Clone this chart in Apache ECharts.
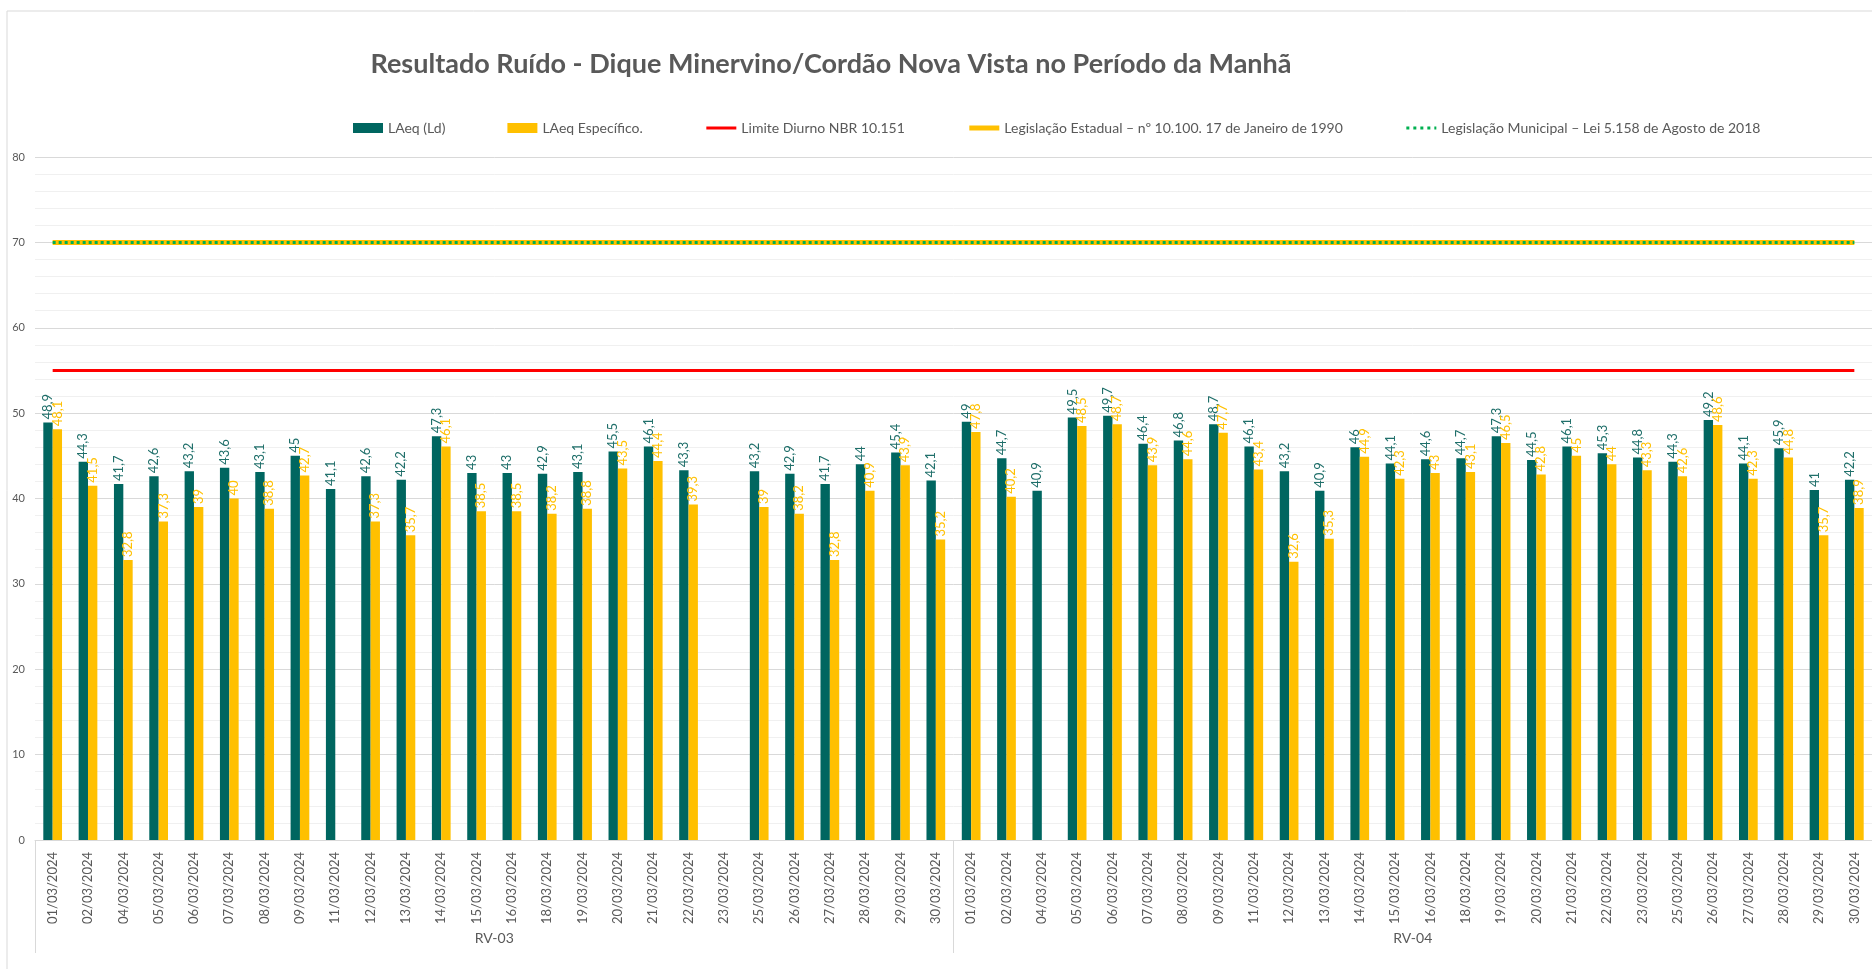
<!DOCTYPE html>
<html>
<head>
<meta charset="utf-8">
<script src="https://cdn.jsdelivr.net/npm/echarts@6/dist/echarts.min.js"></script>
<style>
  html, body { margin: 0; padding: 0; background: #fff; }
  #chart { width: 1872px; height: 969px; }
</style>
</head>
<body>
<div id="chart"></div>
<script>
const days = [
  '01/03/2024', '02/03/2024', '04/03/2024', '05/03/2024', '06/03/2024', '07/03/2024',
  '08/03/2024', '09/03/2024', '11/03/2024', '12/03/2024', '13/03/2024', '14/03/2024',
  '15/03/2024', '16/03/2024', '18/03/2024', '19/03/2024', '20/03/2024', '21/03/2024',
  '22/03/2024', '23/03/2024', '25/03/2024', '26/03/2024', '27/03/2024', '28/03/2024',
  '29/03/2024', '30/03/2024'
];
const points = ['RV-03', 'RV-04'];
const categories = days.concat(days);

const laeqLd = [
  // RV-03
  48.9, 44.3, 41.7, 42.6, 43.2, 43.6, 43.1, 45, 41.1, 42.6, 42.2, 47.3, 43,
  43, 42.9, 43.1, 45.5, 46.1, 43.3, null, 43.2, 42.9, 41.7, 44, 45.4, 42.1,
  // RV-04
  49, 44.7, 40.9, 49.5, 49.7, 46.4, 46.8, 48.7, 46.1, 43.2, 40.9, 46, 44.1,
  44.6, 44.7, 47.3, 44.5, 46.1, 45.3, 44.8, 44.3, 49.2, 44.1, 45.9, 41, 42.2
];
const laeqEspecifico = [
  // RV-03
  48.1, 41.5, 32.8, 37.3, 39, 40, 38.8, 42.7, null, 37.3, 35.7, 46.1, 38.5,
  38.5, 38.2, 38.8, 43.5, 44.4, 39.3, null, 39, 38.2, 32.8, 40.9, 43.9, 35.2,
  // RV-04
  47.8, 40.2, null, 48.5, 48.7, 43.9, 44.6, 47.7, 43.4, 32.6, 35.3, 44.9, 42.3,
  43, 43.1, 46.5, 42.8, 45, 44, 43.3, 42.6, 48.6, 42.3, 44.8, 35.7, 38.9
];
const limiteDiurno = [
  55, 55, 55, 55, 55, 55, 55, 55, 55, 55, 55, 55, 55, 55, 55, 55, 55, 55, 55, 55, 55, 55, 55, 55, 55, 55,
  55, 55, 55, 55, 55, 55, 55, 55, 55, 55, 55, 55, 55, 55, 55, 55, 55, 55, 55, 55, 55, 55, 55, 55, 55, 55
];
const legEstadual = [
  70, 70, 70, 70, 70, 70, 70, 70, 70, 70, 70, 70, 70, 70, 70, 70, 70, 70, 70, 70, 70, 70, 70, 70, 70, 70,
  70, 70, 70, 70, 70, 70, 70, 70, 70, 70, 70, 70, 70, 70, 70, 70, 70, 70, 70, 70, 70, 70, 70, 70, 70, 70
];
const legMunicipal = [
  70, 70, 70, 70, 70, 70, 70, 70, 70, 70, 70, 70, 70, 70, 70, 70, 70, 70, 70, 70, 70, 70, 70, 70, 70, 70,
  70, 70, 70, 70, 70, 70, 70, 70, 70, 70, 70, 70, 70, 70, 70, 70, 70, 70, 70, 70, 70, 70, 70, 70, 70, 70
];

const FONT = 'Lato, "Noto Sans", sans-serif';
const GRAY = '#595959';
const TEAL = '#006660';
const GOLD = '#FFC000';

const chart = echarts.init(document.getElementById('chart'), null, { renderer: 'canvas' });

const comma = (p) => (p.value == null ? '' : String(p.value).replace('.', ','));

const option = {
  backgroundColor: '#fff',
  textStyle: { fontFamily: FONT },
  title: {
    text: 'Resultado Ruído - Dique Minervino/Cordão Nova Vista no Período da Manhã',
    left: 826,
    textAlign: 'center',
    top: 46,
    textStyle: { color: GRAY, fontSize: 27, fontWeight: 'bold', fontFamily: FONT }
  },
  legend: {
    left: 348,
    top: 116,
    itemGap: 62,
    itemWidth: 30,
    itemHeight: 10,
    textStyle: { color: GRAY, fontSize: 14, fontFamily: FONT },
    data: [
      { name: 'LAeq (Ld)', icon: 'rect' },
      { name: 'LAeq Específico.', icon: 'rect' },
      {
        name: 'Limite Diurno NBR 10.151',
        itemStyle: { opacity: 0 },
        lineStyle: { width: 3 }
      },
      {
        name: 'Legislação Estadual – nº 10.100. 17 de Janeiro de 1990',
        itemStyle: { opacity: 0 },
        lineStyle: { width: 5 }
      },
      {
        name: 'Legislação Municipal – Lei 5.158 de Agosto de 2018',
        itemStyle: { opacity: 0 },
        lineStyle: { width: 3, type: [3, 4] }
      }
    ]
  },
  graphic: [{
    type: 'rect',
    shape: { x: 7, y: 11, width: 1900, height: 1000 },
    style: { fill: 'none', stroke: '#d9d9d9', lineWidth: 1 },
    silent: true,
    z: -1
  }],
  grid: { left: 35, right: -8, top: 157, bottom: 129, containLabel: false },
  xAxis: [
    {
      type: 'category',
      data: categories,
      axisLine: { show: true, lineStyle: { color: '#d9d9d9', width: 1 } },
      axisTick: { show: false },
      axisLabel: {
        interval: 0,
        rotate: 90,
        margin: 12,
        color: GRAY,
        fontSize: 13,
        fontFamily: FONT
      }
    },
    {
      type: 'category',
      data: points,
      position: 'bottom',
      offset: 113,
      axisLine: { show: false },
      axisTick: { show: true, inside: true, length: 113, lineStyle: { color: '#d9d9d9' } },
      axisLabel: { inside: true, margin: 8, color: GRAY, fontSize: 14, fontFamily: FONT }
    }
  ],
  yAxis: {
    type: 'value',
    min: 0,
    max: 80,
    interval: 10,
    axisLine: { show: false },
    axisTick: { show: false },
    axisLabel: { color: GRAY, fontSize: 11, margin: 10, fontFamily: FONT },
    splitLine: { lineStyle: { color: '#d9d9d9', width: 1 } },
    minorTick: { show: false, splitNumber: 5 },
    minorSplitLine: { show: true, lineStyle: { color: '#f0f0f0', width: 1 } }
  },
  series: [
    {
      name: 'LAeq (Ld)',
      type: 'bar',
      xAxisIndex: 0,
      data: laeqLd,
      barGap: '0%',
      barCategoryGap: '47%',
      itemStyle: { color: TEAL },
      label: {
        show: true,
        position: 'top',
        rotate: 90,
        align: 'left',
        verticalAlign: 'middle',
        distance: 3,
        color: '#1f6f6a',
        fontSize: 13,
        fontFamily: FONT,
        formatter: comma
      }
    },
    {
      name: 'LAeq Específico.',
      type: 'bar',
      xAxisIndex: 0,
      data: laeqEspecifico,
      itemStyle: { color: GOLD },
      label: {
        show: true,
        position: 'top',
        rotate: 90,
        align: 'left',
        verticalAlign: 'middle',
        distance: 3,
        color: GOLD,
        fontSize: 13,
        fontFamily: FONT,
        formatter: comma
      }
    },
    {
      name: 'Limite Diurno NBR 10.151',
      type: 'line',
      xAxisIndex: 0,
      data: limiteDiurno,
      symbol: 'none',
      lineStyle: { color: '#FF0000', width: 3 },
      itemStyle: { color: '#FF0000' }
    },
    {
      name: 'Legislação Estadual – nº 10.100. 17 de Janeiro de 1990',
      type: 'line',
      xAxisIndex: 0,
      data: legEstadual,
      symbol: 'none',
      lineStyle: { color: GOLD, width: 5 },
      itemStyle: { color: GOLD }
    },
    {
      name: 'Legislação Municipal – Lei 5.158 de Agosto de 2018',
      type: 'line',
      xAxisIndex: 0,
      data: legMunicipal,
      symbol: 'none',
      lineStyle: { color: '#00B050', width: 3, type: [3, 3] },
      itemStyle: { color: '#00B050' },
      z: 3
    }
  ]
};

chart.setOption(option);
</script>
</body>
</html>
